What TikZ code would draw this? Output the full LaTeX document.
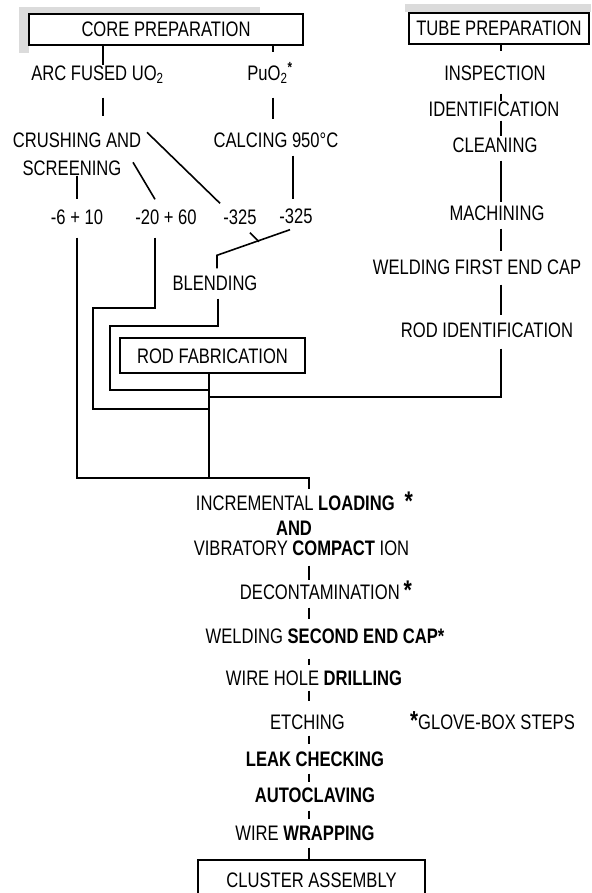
\documentclass[tikz,border=0pt]{standalone}
\usepackage{fontspec}
\setmainfont{Liberation Sans}[FakeStretch=0.79]
\usetikzlibrary{calc}

\begin{document}
\begin{tikzpicture}[
    x=1pt, y=-1pt,
    lbl/.style={
        inner sep=0pt,
        text height=15pt,
        text depth=0pt,
        font=\fontsize{21}{25}\selectfont
    },
    hdr/.style={
        rectangle,
        draw=black,
        fill=white,
        line width=1.6pt,
        inner sep=0pt,
        text height=15pt,
        text depth=0pt,
        font=\fontsize{21}{25}\selectfont
    },
    link/.style={
        draw=black,
        line width=1.6pt
    }
]
\useasboundingbox (0,0) rectangle (591,893);
\clip (0,0) rectangle (591,893);

% Grey edges of the scan
\fill[black!14] (19,7) rectangle (260,14);
\fill[black!14] (19,7) rectangle (29,53);
\fill[black!14] (405,4) rectangle (591,12);

% Columns
\coordinate (cA) at (103,0);
\coordinate (cP) at (273,0);
\coordinate (cC) at (293,0);
\coordinate (cT) at (501,0);
\coordinate (cS) at (309,0);

% Core preparation
\node[hdr, minimum width=274pt, minimum height=31pt] (core) at (166,29.5) {CORE PREPARATION};
\node[lbl] (arc) at (97.5,73) {ARC FUSED UO\textsubscript{2}};
\node[lbl] (puo) at (270,73) {PuO\textsubscript{2}\textsuperscript{\bfseries *}};
\node[lbl] (crush) at (77,140) {CRUSHING AND};
\node[lbl] (screen) at (72,168) {SCREENING};
\node[lbl] (calc) at (276,140) {CALCING 950°C};

% Size fractions
\node[lbl] (sa) at (77,217) {-6 + 10};
\node[lbl] (sb) at (166,217) {-20 + 60};
\node[lbl] (sc) at (240,217) {-325};
\node[lbl] (sd) at (296,216) {-325};
\node[lbl] (blend) at (215,283) {BLENDING};
\node[hdr, minimum width=185pt, minimum height=35pt] (rodfab) at (212.5,355.5) {ROD FABRICATION};

% Tube preparation
\node[hdr, minimum width=180pt, minimum height=31pt] (tube) at (499,28.5) {TUBE PREPARATION};
\node[lbl] (insp) at (495,73) {INSPECTION};
\node[lbl] (ident) at (494,109) {IDENTIFICATION};
\node[lbl] (clean) at (495,145) {CLEANING};
\node[lbl] (mach) at (497,213) {MACHINING};
\node[lbl] (weldone) at (477,267) {WELDING FIRST END CAP};
\node[lbl] (rodid) at (487,330) {ROD IDENTIFICATION};

% Rod steps
\node[lbl] (incr) at (304.5,503) {INCREMENTAL \textbf{LOADING}\hspace{10pt}{\fontsize{27}{27}\selectfont\bfseries *}};
\node[lbl] (and) at (294,528) {\textbf{AND}};
\node[lbl] (vibr) at (301.5,548) {VIBRATORY \textbf{COMPACT} ION};
\node[lbl] (decon) at (326,592) {DECONTAMINATION\hspace{4pt}{\fontsize{27}{27}\selectfont\bfseries *}};
\node[lbl] (weldtwo) at (325,636) {WELDING \textbf{SECOND END CAP*}};
\node[lbl] (hole) at (314,678) {WIRE HOLE \textbf{DRILLING}};
\node[lbl] (etch) at (307.5,722) {ETCHING};
\node[lbl] (glove) at (492.5,722) {{\fontsize{26}{26}\selectfont\bfseries *}GLOVE-BOX STEPS};
\node[lbl] (leak) at (315,759) {\textbf{LEAK CHECKING}};
\node[lbl] (auto) at (315,795) {\textbf{AUTOCLAVING}};
\node[lbl] (wrap) at (305,833) {WIRE \textbf{WRAPPING}};
\node[hdr, minimum width=227pt, minimum height=40pt] (cluster) at (311.5,880) {CLUSTER ASSEMBLY};

% Bends of the feed lines
\coordinate (kB) at (93,308);
\coordinate (kA) at (110,326);
\coordinate (tA) at (209,390);
\coordinate (tB) at (209,397);
\coordinate (tC) at (209,409);
\coordinate (join) at (209,478);

% Core lines
\draw[link] (core.south -| cA) -- (arc.north -| cA);
\draw[link] (core.south -| cP) -- ++(0,6);
\draw[link, shorten <=17pt, shorten >=16pt] (arc.south -| cA) -- (crush.north -| cA);
\draw[link, shorten <=17pt, shorten >=13pt] (puo.south -| cP) -- (calc.north -| cP);
\draw[link, shorten <=8pt, shorten >=9pt] (calc.south -| cC) -- (sd.north -| cC);
\draw[link, shorten >=10pt] (screen.south -| sa.north) -- (sa.north);
\draw[link] ([shift={(61,2)}]screen.north) -- ([shift={(-11,-10)}]sb.north);
\draw[link] ([shift={(70,0)}]crush.north) -- ([shift={(-20,-6)}]sc.north);
\draw[link] ([shift={(-6,6)}]sd.south) -- ([shift={(2,-20)}]blend.north) -- ([shift={(2,-7)}]blend.north);
\draw[link] ([shift={(10,8)}]sc.south) -- ([shift={(19,17)}]sc.south);

% Feeds into the trunk
\draw[link, shorten <=8pt] ([xshift=3pt]blend.south) |- (kA) |- (tA);
\draw[link, shorten <=13pt] ([xshift=-11pt]sb.south) |- (kB) |- (tC);
\draw[link, shorten <=13pt, shorten >=6pt] (sa.south) |- (join) -| (incr.north -| cS);
\draw[link] (rodfab.south -| join) -- (join);

% Tube lines
\draw[link] (tube.south -| cT) -- ++(0,6);
\draw[link, shorten <=13pt] (insp.south -| cT) -- (ident.north -| cT);
\draw[link, shorten <=4pt, shorten >=1pt] (ident.south -| cT) -- (clean.north -| cT);
\draw[link, shorten <=8pt, shorten >=3pt] (clean.south -| cT) -- (mach.north -| cT);
\draw[link, shorten <=8pt, shorten >=8pt] (mach.south -| cT) -- (weldone.north -| cT);
\draw[link, shorten <=10pt, shorten >=7pt] (weldone.south -| cT) -- (rodid.north -| cT);
\draw[link, shorten <=11pt] (rodid.south -| cT) |- (tB);

% Rod steps
\draw[link, shorten <=10pt, shorten >=4pt] (vibr.south -| cS) -- (decon.north -| cS);
\draw[link, shorten <=8pt, shorten >=9pt] (decon.south -| cS) -- (weldtwo.north -| cS);
\draw[link, shorten <=15pt, shorten >=5pt] (weldtwo.south -| cS) -- (hole.north -| cS);
\draw[link, shorten <=5pt, shorten >=13pt] (hole.south -| cS) -- (etch.north -| cS);
\draw[link, shorten <=6pt, shorten >=7pt] (etch.south -| cS) -- (leak.north -| cS);
\draw[link, shorten <=7pt, shorten >=5pt] (leak.south -| cS) -- (auto.north -| cS);
\draw[link, shorten <=8pt, shorten >=6pt] (auto.south -| cS) -- (wrap.north -| cS);
\draw[link, shorten <=7pt] (wrap.south -| cS) -- (cluster.north -| cS);

\end{tikzpicture}
\end{document}
